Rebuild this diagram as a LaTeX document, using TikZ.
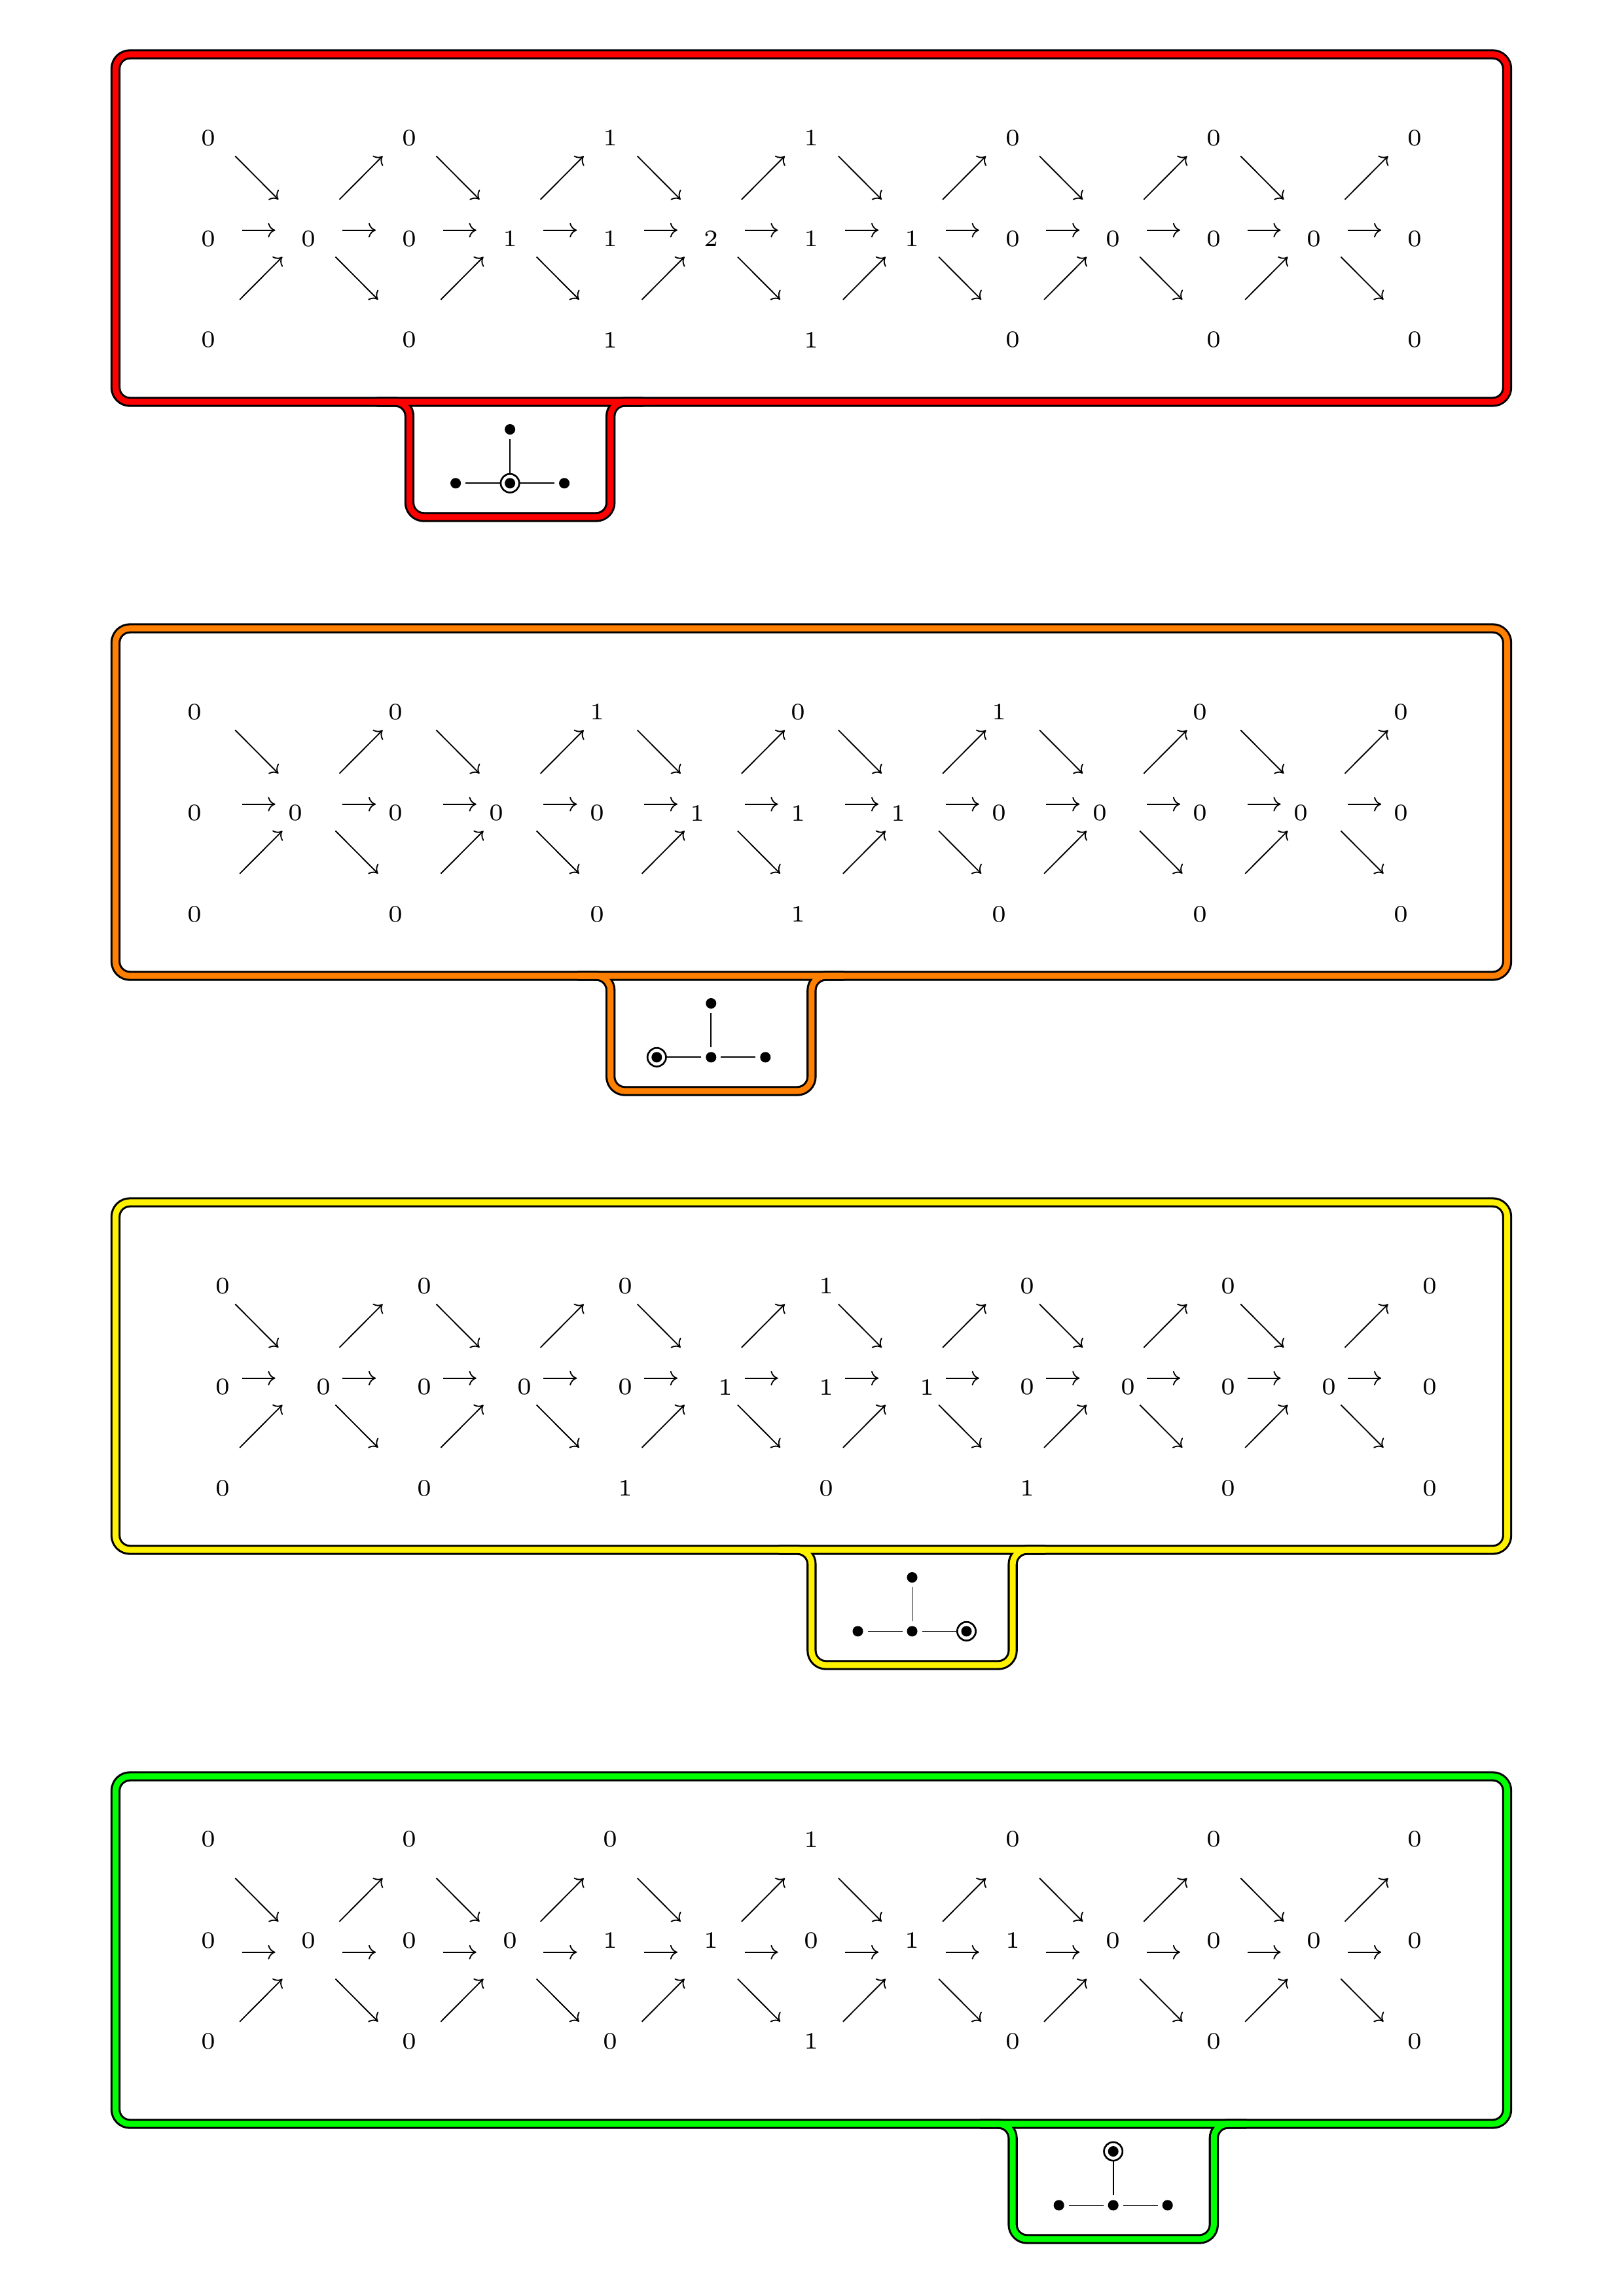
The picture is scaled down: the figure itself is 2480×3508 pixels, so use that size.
\documentclass[tikz,border=0pt]{standalone}
\usetikzlibrary{arrows.meta}
\newcommand\myDig[1]{\scalebox{1.44}{\fontsize{6}{7}\selectfont #1}}
\tikzset{
  lbl/.style={inner sep=0pt, outer sep=0pt},
  arr/.style={line width=0.45pt, -{Computer Modern Rightarrow[length=2.7pt,width=5.3pt]}},
  blackband/.style={draw=black, line width=3.7pt, rounded corners=0.186cm},
  colband/.style={draw=#1, line width=2.2pt, rounded corners=0.186cm},
  vtx/.style={circle, minimum size=0.254cm, inner sep=0pt, outer sep=0pt,
    path picture={\fill (path picture bounding box.center) circle (0.068cm);}},
  ringmark/.style={line width=0.65pt},
  edge/.style={line width=0.4pt},
}
\newcommand\drawPanel[8]{%
  % #1 index, #2 colour, #3 dx, #4 dy, #5 top, #6 middle, #7 bottom, #8 highlighted vertex
  \pgfmathsetmacro\Ya{83+877*#1}
  \pgfmathsetmacro\Yb{614+877*#1}
  \pgfmathsetmacro\Yc{790+877*#1}
  \pgfmathsetmacro\Xl{625.5+307.2*#1}
  \pgfmathsetmacro\Xr{932.7+307.2*#1}
  \pgfmathsetmacro\Xc{779.1+307.2*#1}
  \pgfmathsetmacro\Yt{614+42+877*#1}
  \pgfmathsetmacro\Yd{614+124.3+877*#1}
  % frame and tab
  \path[blackband] (176.5,\Ya) rectangle (2302.5,\Yb);
  \path[blackband] ({\Xl-50},\Yb) -- (\Xl,\Yb) -- (\Xl,\Yc) -- (\Xr,\Yc) -- (\Xr,\Yb) -- ({\Xr+50},\Yb);
  \path[colband=#2] (176.5,\Ya) rectangle (2302.5,\Yb);
  \path[colband=#2] ({\Xl-50},\Yb) -- (\Xl,\Yb) -- (\Xl,\Yc) -- (\Xr,\Yc) -- (\Xr,\Yb) -- ({\Xr+50},\Yb);
  % grid coordinates
  \foreach \k in {0,...,12} {
    \coordinate (g#1m\k) at ({318.3+153.6*\k}, {351.7+877*#1});
  }
  \foreach \k in {0,2,...,12} {
    \coordinate (g#1t\k) at ({318.3+153.6*\k}, {197.3+877*#1});
    \coordinate (g#1b\k) at ({318.3+153.6*\k}, {506+877*#1});
  }
  % labels
  \foreach \v [count=\n from 0] in {#5} {
    \node[lbl] (L#1t\n) at ({318.3+307.2*\n+#3}, {197.3+877*#1+#4}) {\myDig{\v}};
  }
  \foreach \v [count=\n from 0] in {#6} {
    \node[lbl] (L#1m\n) at ({318.3+153.6*\n+#3}, {351.7+877*#1+#4}) {\myDig{\v}};
  }
  \foreach \v [count=\n from 0] in {#7} {
    \node[lbl] (L#1b\n) at ({318.3+307.2*\n+#3}, {506+877*#1+#4}) {\myDig{\v}};
  }
  % arrows
  \foreach \k [count=\kk from 1] in {0,...,11} {
    \draw[arr, shorten <=0.4344cm, shorten >=0.4344cm] (g#1m\k) -- (g#1m\kk);
    \ifodd\k
      \draw[arr, shorten <=0.5589cm, shorten >=0.4911cm] (g#1m\k) -- (g#1t\kk);
      \draw[arr, shorten <=0.4869cm, shorten >=0.5758cm] (g#1m\k) -- (g#1b\kk);
    \else
      \draw[arr, shorten <=0.4911cm, shorten >=0.5589cm] (g#1t\k) -- (g#1m\kk);
      \draw[arr, shorten <=0.5758cm, shorten >=0.4869cm] (g#1b\k) -- (g#1m\kk);
    \fi
  }
  % tree
  \node[vtx] (T#1c) at (\Xc,\Yd) {};
  \node[vtx] (T#1l) at ({\Xc-83},\Yd) {};
  \node[vtx] (T#1r) at ({\Xc+83},\Yd) {};
  \node[vtx] (T#1t) at (\Xc,\Yt) {};
  \draw[edge] (T#1l) -- (T#1c);
  \draw[edge] (T#1c) -- (T#1r);
  \draw[edge] (T#1c) -- (T#1t);
  \draw[ringmark] (T#1#8.center) circle (0.120cm);
}
\begin{document}
\begin{tikzpicture}[x=0.0084677cm,y=-0.0084677cm]
\useasboundingbox (0,0) rectangle (2480,3508);
\drawPanel{0}{red}{0}{13.3}{0,0,1,1,0,0,0}{0,0,0,1,1,2,1,1,0,0,0,0,0}{0,0,1,1,0,0,0}{c}
\drawPanel{1}{orange}{-20.6}{13.5}{0,0,1,0,1,0,0}{0,0,0,0,0,1,1,1,0,0,0,0,0}{0,0,0,1,0,0,0}{l}
\drawPanel{2}{yellow}{22.5}{13.5}{0,0,0,1,0,0,0}{0,0,0,0,0,1,1,1,0,0,0,0,0}{0,0,1,0,1,0,0}{r}
\drawPanel{3}{green}{0}{-18}{0,0,0,1,0,0,0}{0,0,0,0,1,1,0,1,1,0,0,0,0}{0,0,0,1,0,0,0}{t}
\end{tikzpicture}
\end{document}
